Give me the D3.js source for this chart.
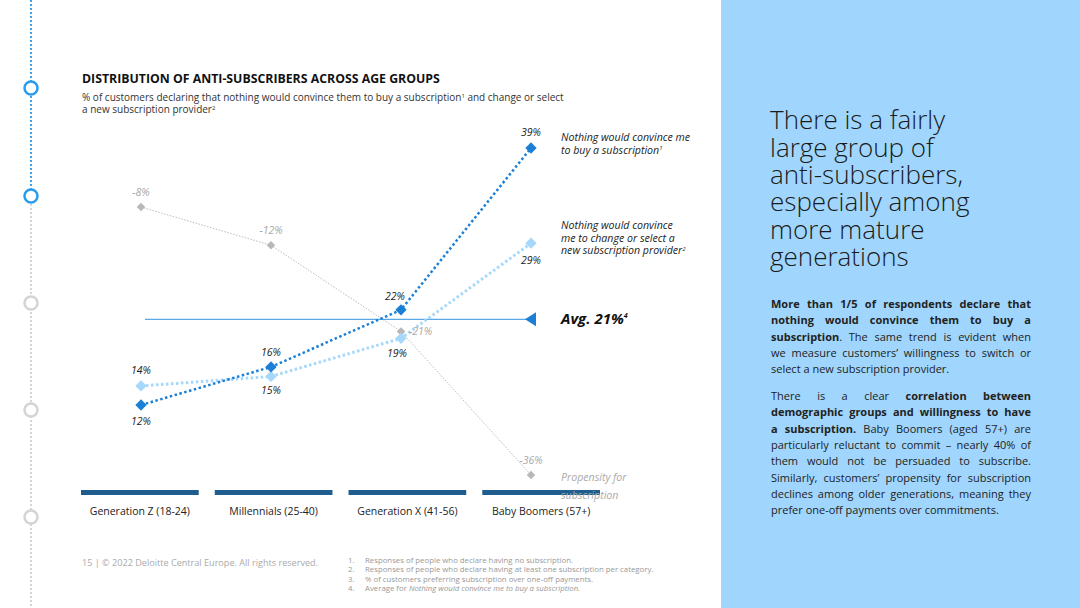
<!DOCTYPE html>
<html>
<head>
<meta charset="utf-8">
<script src="https://cdn.jsdelivr.net/npm/d3@7"></script>
<style>
  html, body { margin: 0; padding: 0; background: #fff; }
  body { width: 1080px; height: 608px; position: relative; overflow: hidden; font-family: "Open Sans", sans-serif; }
  svg { position: absolute; left: 0; top: 0; }
  #heading { position: absolute; left: 770px; top: 106.2px; font-size: 26px; font-weight: 300; line-height: 27.4px; color: #1a1a1a; white-space: nowrap; }
  #heading div { height: 27.4px; overflow: visible; }
  #body-text { position: absolute; left: 771px; top: 296px; width: 260px; font-size: 11px; line-height: 16.3px; color: #222; }
  #body-text .ln { white-space: nowrap; text-align: justify; text-align-last: justify; }
  #body-text .last { text-align-last: left; }
  #body-text .gap { height: 10.6px; }
  #body-text b { font-weight: 700; }
</style>
</head>
<body>
<div id="chart"></div>
<div id="heading"></div>
<div id="body-text"></div>
<script>
// ---------- DATA ----------
const categories = ["Generation Z (18-24)", "Millennials (25-40)", "Generation X (41-56)", "Baby Boomers (57+)"];
const buyValues = [12, 16, 22, 39];          // Nothing would convince me to buy a subscription
const switchValues = [14, 15, 19, 29];       // Nothing would convince me to change or select a new provider
const propensityValues = [-8, -12, -21, -36]; // Propensity for subscription
const averageBuy = 21;

const titleText = "DISTRIBUTION OF ANTI-SUBSCRIBERS ACROSS AGE GROUPS";
const subtitleLines = [
  ["% of customers declaring that nothing would convince them to buy a subscription", "1", " and change or select"],
  ["a new subscription provider", "2", ""]
];
const footnotes = [
  "Responses of people who declare having no subscription.",
  "Responses of people who declare having at least one subscription per category.",
  "% of customers preferring subscription over one-off payments.",
  "Average for "
];
const headingLines = ["There is a fairly", "large group of", "anti-subscribers,", "especially among", "more mature", "generations"];

// ---------- DRAW ----------
const W = 1080, H = 608;
const svg = d3.select("#chart").append("svg").attr("width", W).attr("height", H);
const font = "Open Sans, sans-serif";

// right panel
svg.append("rect").attr("x", 721).attr("y", 0).attr("width", W - 721).attr("height", H).attr("fill", "#a0d6fd");

// left timeline
const tlX = 31;
svg.append("line").attr("x1", tlX).attr("x2", tlX).attr("y1", 0).attr("y2", 196)
  .attr("stroke", "#3ea2ee").attr("stroke-width", 2).attr("stroke-dasharray", "2,2");
svg.append("line").attr("x1", tlX).attr("x2", tlX).attr("y1", 196).attr("y2", H)
  .attr("stroke", "#d6d6d6").attr("stroke-width", 2).attr("stroke-dasharray", "2,2");
[[88, "#2a9cf0"], [196, "#2a9cf0"], [303, "#d4d4d4"], [410, "#d4d4d4"], [517, "#d4d4d4"]].forEach(([cy, c]) => {
  svg.append("circle").attr("cx", tlX).attr("cy", cy).attr("r", 6.5).attr("fill", "#fff")
    .attr("stroke", c).attr("stroke-width", 2.5);
});

// title
svg.append("text").attr("x", 82).attr("y", 83).attr("font-family", font).attr("font-weight", 700)
  .attr("font-size", 12.3).attr("fill", "#111").text(titleText);
subtitleLines.forEach((parts, i) => {
  const t = svg.append("text").attr("x", 82).attr("y", 101 + i * 12).attr("font-family", font)
    .attr("font-size", 10).attr("fill", "#333");
  t.append("tspan").text(parts[0]);
  t.append("tspan").attr("font-size", 6).attr("dy", -3.5).text(parts[1]);
  if (parts[2]) t.append("tspan").attr("dy", 3.5).text(parts[2]);
});

// scales
const xBand = d3.scaleBand().domain(categories).range([81, 600]).paddingInner(0.12);
const xPt = d3.scalePoint().domain(categories).range([141, 531]);
const yMain = d3.scaleLinear().domain([12, 39]).range([405, 148]);
const yProp = d3.scaleLinear().domain([-8, -36]).range([207, 475]);

// category bars + labels
svg.append("g").selectAll("rect").data(categories).join("rect")
  .attr("x", d => xBand(d)).attr("y", 490).attr("width", xBand.bandwidth()).attr("height", 5)
  .attr("fill", "#1f5d8e");
svg.append("g").selectAll("text").data(categories).join("text")
  .attr("x", d => xBand(d) + xBand.bandwidth() / 2).attr("y", 515).attr("text-anchor", "middle")
  .attr("font-family", font).attr("font-size", 10.5).attr("fill", "#222").text(d => d);

// propensity (grey)
const propData = categories.map((c, i) => ({ c, v: propensityValues[i] }));
svg.append("path").datum(propData)
  .attr("d", d3.line().x(d => xPt(d.c)).y(d => yProp(d.v)))
  .attr("fill", "none").attr("stroke", "#bdbdbd").attr("stroke-width", 1).attr("stroke-dasharray", "1.5,1.5");

// average line
const avgY = yMain(averageBuy);
svg.append("line").attr("x1", 145).attr("x2", 536).attr("y1", avgY).attr("y2", avgY)
  .attr("stroke", "#5aa8e4").attr("stroke-width", 1.3);
svg.append("path").attr("d", `M${536},${avgY - 7} L${536},${avgY + 7} L${525},${avgY} Z`).attr("fill", "#1b7fd6");
const avgT = svg.append("text").attr("x", 561).attr("y", avgY + 5).attr("font-family", font)
  .attr("font-size", 15).attr("font-weight", 700).attr("font-style", "italic").attr("fill", "#111");
avgT.append("tspan").text(`Avg. ${averageBuy}%`);
avgT.append("tspan").attr("font-size", 7).attr("dy", -6).text("4");

// series lines
const buyData = categories.map((c, i) => ({ c, v: buyValues[i] }));
const swData = categories.map((c, i) => ({ c, v: switchValues[i] }));
const lineMain = d3.line().x(d => xPt(d.c)).y(d => yMain(d.v));
svg.append("path").datum(swData).attr("d", lineMain).attr("fill", "none")
  .attr("stroke", "#a6d8fb").attr("stroke-width", 3).attr("stroke-dasharray", "2.5,2.5");
svg.append("path").datum(buyData).attr("d", lineMain).attr("fill", "none")
  .attr("stroke", "#1b7fd6").attr("stroke-width", 2.5).attr("stroke-dasharray", "2.5,2.5");

// markers
const diamond = (s) => d3.symbol().type(d3.symbolSquare).size(s);
function markers(data, yS, color, size) {
  svg.append("g").selectAll("path").data(data).join("path")
    .attr("d", diamond(size))
    .attr("transform", d => `translate(${xPt(d.c)},${yS(d.v)}) rotate(45)`)
    .attr("fill", color);
}
markers(propData, yProp, "#b8b8b8", 36);
markers(swData, yMain, "#a6d8fb", 64);
markers(buyData, yMain, "#1b7fd6", 64);

// value labels
const fmt = v => `${v}%`;
function vlabels(data, yS, offsets, color) {
  svg.append("g").selectAll("text").data(data).join("text")
    .attr("x", (d, i) => xPt(d.c) + offsets[i][0]).attr("y", (d, i) => yS(d.v) + offsets[i][1])
    .attr("text-anchor", (d, i) => offsets[i][2] || "middle")
    .attr("font-family", font).attr("font-size", 10.5).attr("font-style", "italic")
    .attr("fill", color).text(d => fmt(d.v));
}
vlabels(buyData, yMain, [[0, 20], [0, -11], [-6, -10], [0, -12]], "#222");
vlabels(swData, yMain, [[0, -12], [0, 18], [-4, 19], [0, 21]], "#222");
vlabels(propData, yProp, [[0, -11], [0, -11], [8, 4, "start"], [0, -11]], "#a8a8a8");

// series labels
function seriesLabel(lines, x, y, color, lh) {
  const t = svg.append("text").attr("font-family", font).attr("font-size", 10.6).attr("font-style", "italic").attr("fill", color);
  lines.forEach((l, i) => {
    t.append("tspan").attr("x", x).attr("y", y + i * lh).text(l[0]);
    if (l[1]) t.append("tspan").attr("font-size", 6).attr("dy", -3.5).text(l[1]);
  });
}
seriesLabel([["Nothing would convince me"], ["to buy a subscription", "1"]], 561, 141, "#222", 12.5);
seriesLabel([["Nothing would convince"], ["me to change or select a"], ["new subscription provider", "2"]], 561, 229, "#222", 12.5);
seriesLabel([["Propensity for"], ["subscription"]], 561, 481, "#aaaaaa", 18);

// footer
svg.append("text").attr("x", 82).attr("y", 566).attr("font-family", font).attr("font-size", 9.1)
  .attr("fill", "#aaa").text("15  |  © 2022 Deloitte Central Europe. All rights reserved.");
footnotes.forEach((f, i) => {
  svg.append("text").attr("x", 348).attr("y", 563 + i * 9.3).attr("font-family", font).attr("font-size", 7.8)
    .attr("fill", "#999").text(`${i + 1}.`);
  const t = svg.append("text").attr("x", 365).attr("y", 563 + i * 9.3).attr("font-family", font).attr("font-size", 7.8)
    .attr("fill", "#999").text(f);
  if (i === 3) t.append("tspan").attr("font-style", "italic").text("Nothing would convince me to buy a subscription.");
});

// heading (HTML lines)
d3.select("#heading").selectAll("div").data(headingLines).join("div").text(d => d);

// body text (justified)
const bodyLines = [
  ["<b>More than 1/5 of respondents declare that</b>", ""],
  ["<b>nothing would convince them to buy a</b>", ""],
  ["<b>subscription</b>. The same trend is evident when", ""],
  ["we measure customers’ willingness to switch or", ""],
  ["select a new subscription provider.", "last"],
  ["", "gap"],
  ["There is a clear <b>correlation between</b>", ""],
  ["<b>demographic groups and willingness to have</b>", ""],
  ["<b>a subscription.</b> Baby Boomers (aged 57+) are", ""],
  ["particularly reluctant to commit – nearly 40% of", ""],
  ["them would not be persuaded to subscribe.", ""],
  ["Similarly, customers’ propensity for subscription", ""],
  ["declines among older generations, meaning they", ""],
  ["prefer one-off payments over commitments.", "last"]
];
d3.select("#body-text").selectAll("div").data(bodyLines).join("div")
  .attr("class", d => d[1] === "gap" ? "gap" : "ln " + d[1])
  .html(d => d[0]);
</script>
</body>
</html>
